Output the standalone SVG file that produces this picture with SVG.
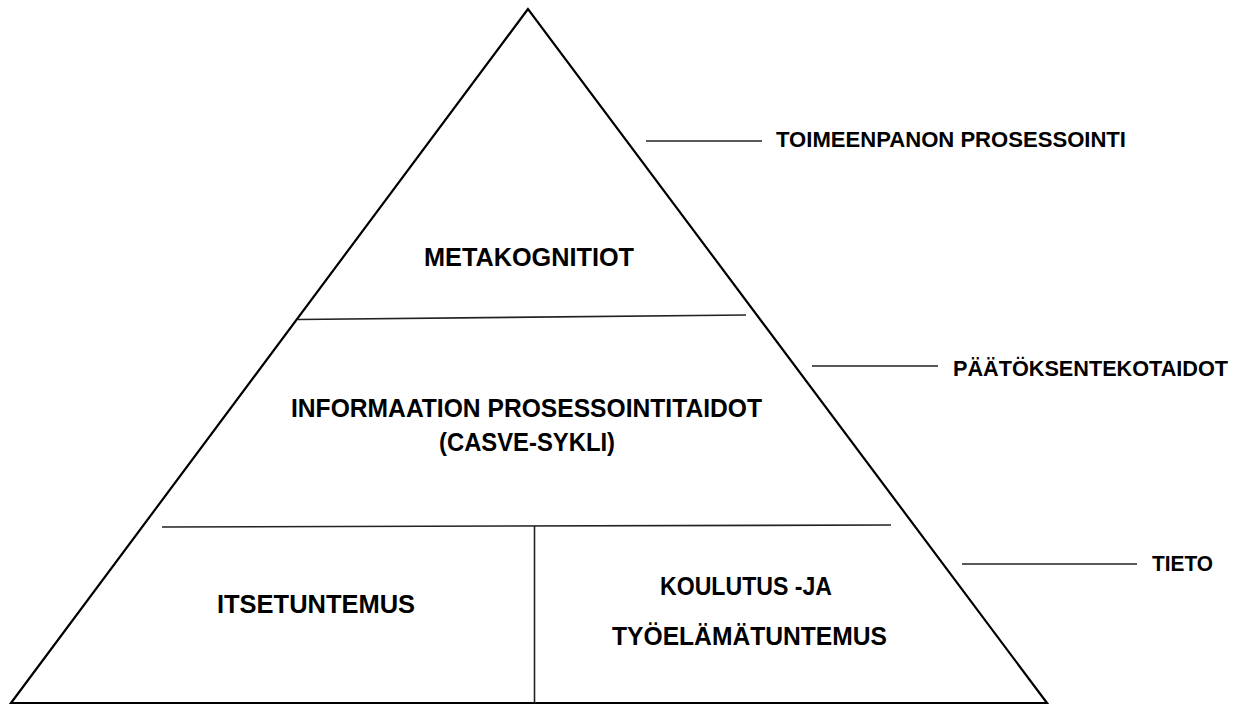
<svg xmlns="http://www.w3.org/2000/svg" width="1242" height="705" viewBox="0 0 1242 705">
<style>
.edge{stroke:#000;stroke-width:2.2;fill:none;stroke-linejoin:miter}
.div{stroke:#222;stroke-width:1.6;fill:none}
.lead{stroke:#222;stroke-width:1.5;fill:none}
.t{font-family:"Liberation Sans",Arial,sans-serif;font-weight:bold;fill:#000}
.c{font-size:25px;text-anchor:middle}
.s{font-size:22px}
</style>
<rect width="1242" height="705" fill="#fff"/>
<g id="pyramid">
<polygon class="edge" points="528,9 11,703 1047,703"/>
</g>
<g id="dividers">
<line class="div" x1="298" y1="319.5" x2="746" y2="315"/>
<line class="div" x1="162" y1="527" x2="891" y2="525"/>
<line class="div" x1="534.5" y1="526" x2="534.5" y2="703"/>
</g>
<g id="metakognitiot"><text class="t c" x="529" y="266" textLength="210" lengthAdjust="spacingAndGlyphs">METAKOGNITIOT</text></g>
<g id="informaatio">
<text class="t c" x="526.5" y="417" textLength="471" lengthAdjust="spacingAndGlyphs">INFORMAATION PROSESSOINTITAIDOT</text>
<text class="t c" x="527" y="451" textLength="176" lengthAdjust="spacingAndGlyphs">(CASVE-SYKLI)</text>
</g>
<g id="itsetuntemus"><text class="t c" x="316" y="613" textLength="198" lengthAdjust="spacingAndGlyphs">ITSETUNTEMUS</text></g>
<g id="koulutus">
<text class="t c" x="746" y="595" textLength="172" lengthAdjust="spacingAndGlyphs">KOULUTUS -JA</text>
<text class="t c" x="749.5" y="645" textLength="275" lengthAdjust="spacingAndGlyphs">TYÖELÄMÄTUNTEMUS</text>
</g>
<g id="connectors">
<line class="lead" x1="646" y1="141" x2="762" y2="141"/>
<line class="lead" x1="812" y1="366" x2="938" y2="366"/>
<line class="lead" x1="962" y1="564" x2="1137" y2="564"/>
</g>
<g id="toimeenpanon"><text class="t s" x="776" y="147" textLength="350" lengthAdjust="spacingAndGlyphs">TOIMEENPANON PROSESSOINTI</text></g>
<g id="paatoksenteko"><text class="t s" x="953" y="376" textLength="275" lengthAdjust="spacingAndGlyphs">PÄÄTÖKSENTEKOTAIDOT</text></g>
<g id="tieto"><text class="t s" x="1152" y="571" textLength="61" lengthAdjust="spacingAndGlyphs">TIETO</text></g>
</svg>
